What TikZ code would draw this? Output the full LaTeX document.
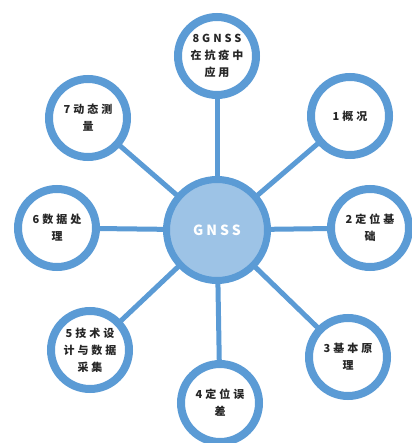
\documentclass[tikz,border=0pt]{standalone}
\usepackage{fontspec}
\newfontfamily\cjk{Noto Sans CJK SC}[LetterSpace=27]
\newfontfamily\cjkwide{Noto Sans CJK SC}[LetterSpace=22]
\usetikzlibrary{backgrounds}
\definecolor{ringblue}{HTML}{5B9BD5}
\definecolor{hubfill}{HTML}{9DC3E6}
\definecolor{labeltext}{HTML}{262626}
\tikzset{
  topic/.style={circle, draw=ringblue, line width=8pt, fill=white,
    minimum size=78pt, inner sep=0pt, align=center, text=labeltext,
    font=\cjk\bfseries\fontsize{11}{17}\selectfont},
  hub/.style={circle, draw=ringblue, line width=7pt, fill=hubfill,
    minimum size=101pt, inner sep=0pt, text=white,
    font=\cjkwide\bfseries\fontsize{14}{17}\selectfont},
  spoke/.style={draw=ringblue, line width=5pt}
}
\begin{document}
\begin{tikzpicture}[x=1pt,y=-1pt]
\useasboundingbox (0,0) rectangle (411,443);
\node[hub] (c) at (217,230) {GNSS};
\node[topic] (n8) at (217,56) {8GNSS\\在抗疫中\\应用};
\node[topic] (n1) at (350,116) {1概况};
\node[topic] (n2) at (370,228) {2定位基\\础};
\node[topic] (n3) at (348,357) {3基本原\\理};
\node[topic] (n4) at (220,403) {4定位误\\差};
\node[topic] (n5) at (90,350) {5技术设\\计与数据\\采集};
\node[topic] (n6) at (57,228) {6数据处\\理};
\node[topic] (n7) at (88,118) {7动态测\\量};
\begin{scope}[on background layer]
  \foreach \n in {n1,n2,n3,n4,n5,n6,n7,n8}
    \draw[spoke] (c.center) -- (\n.center);
\end{scope}
\end{tikzpicture}
\end{document}
